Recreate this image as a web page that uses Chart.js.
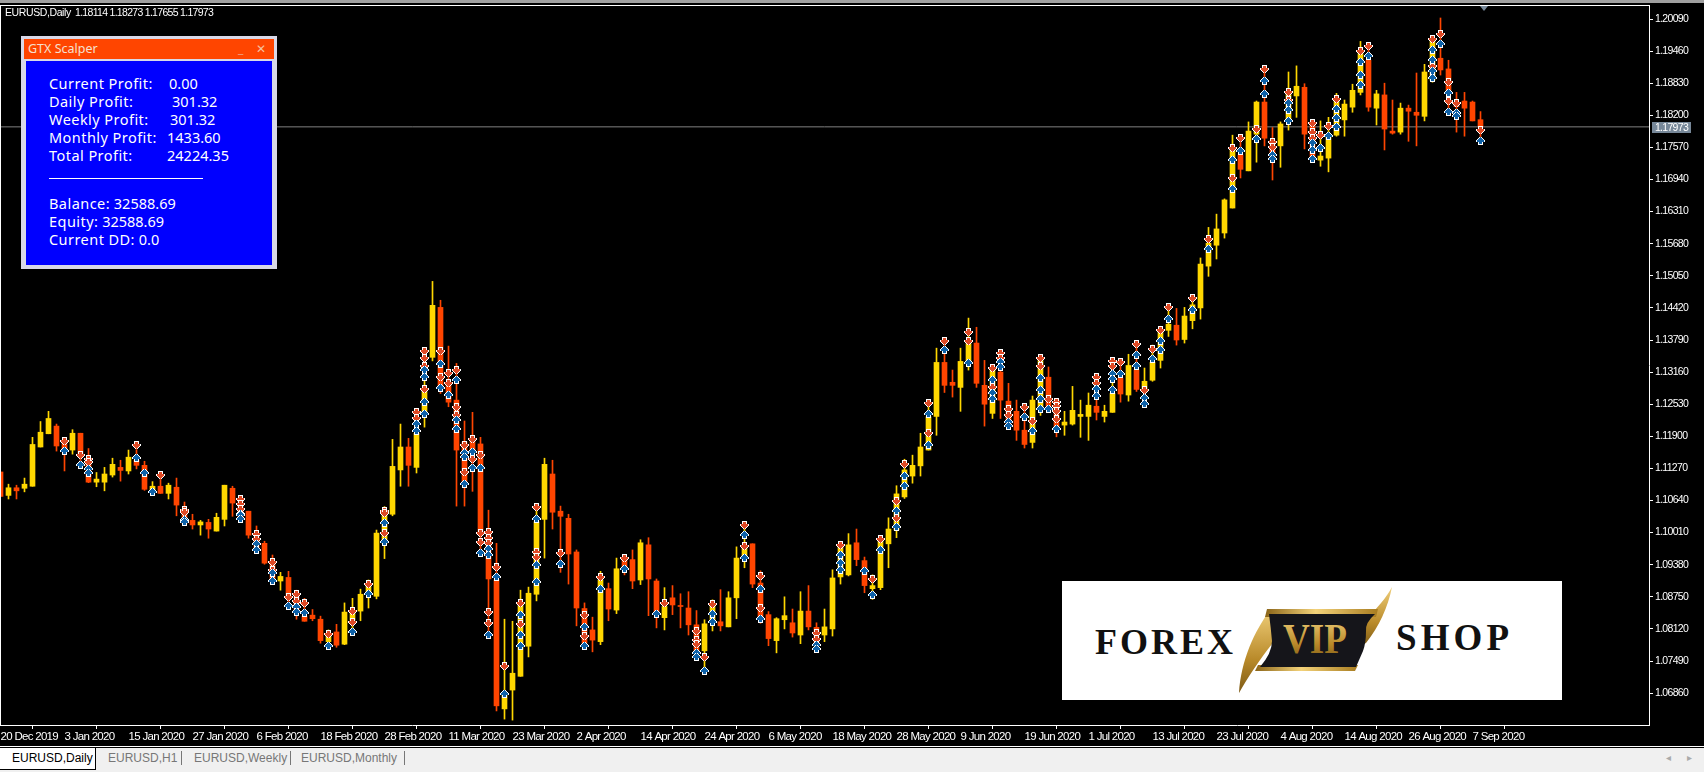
<!DOCTYPE html>
<html lang="en">
<head>
<meta charset="UTF-8" />
<title>EURUSD,Daily</title>
<script src="https://cdn.jsdelivr.net/npm/chart.js"></script>
<style>
  html, body { margin: 0; padding: 0; background: #000; overflow: hidden; }
  body { width: 1704px; height: 772px; position: relative; }
  canvas { position: absolute; left: 0; top: 0; }
  .abs { position: absolute; white-space: pre; }
  #topbar { left: 0; top: 0; width: 1704px; height: 3px; background: #a0a0a0; }
  #topline { left: 0; top: 5px; width: 1650px; height: 1px; background: #fff; }
  #leftline { left: 0; top: 5px; width: 1px; height: 720px; background: #fff; }
  #header { left: 5px; top: 6px; color: #fff; font: 10.5px/13px "Liberation Sans", sans-serif; letter-spacing: -0.4px; }
  #ohlc { left: 75px; top: 6px; color: #fff; font: 10.5px/13px "Liberation Sans", sans-serif; letter-spacing: -0.7px; }
  #pricetag { left: 1652px; top: 122px; width: 39px; height: 11px; background: #778899; color: #fff;
    font: 10.5px/11px "Liberation Sans", sans-serif; letter-spacing: -0.7px; text-align: center; }
  #marker { left: 1480px; top: 6px; width: 0; height: 0; border-left: 4px solid transparent; border-right: 4px solid transparent; border-top: 5px solid #778899; }
  #panel { left: 21px; top: 36px; width: 256px; height: 233px; background: #d8d8e8; }
  #ptitle { left: 3px; top: 3px; width: 250px; height: 20px; background: #ff4500; }
  #pname { left: 4px; top: 0; color: #f6e0d0; font: 12.5px/20px "Noto Sans", sans-serif; }
  #pmin { left: 214px; top: 0; color: #f0a080; font: 12px/20px "Noto Sans", sans-serif; }
  #pclose { left: 232px; top: 0; color: #f6c0a0; font: 12px/20px "Noto Sans", sans-serif; }
  #pbody { left: 5px; top: 25px; width: 246px; height: 204px; background: #0000ff; }
  .row { color: #fff; font: 14.5px/18px "Noto Sans", sans-serif; }
  .lab { letter-spacing: 0.45px; }
  #prule { left: 23px; top: 117px; width: 154px; height: 1px; background: #fff; }
  #logo { left: 1062px; top: 581px; width: 500px; height: 119px; background: #fff; }
  #logo svg { display: block; position: absolute; left: 0; top: 0; }
  #tabs { left: 0; top: 746px; width: 1704px; height: 26px; background: #f0f0f0; border-top: 1px solid #fff; }
  #tabsline { left: 0; top: 747px; width: 1704px; height: 1px; background: #000; }
  #tabactive { left: 0; top: 748px; width: 95px; height: 21px; background: #fff; border-right: 1px solid #000; border-bottom: 1px solid #000; }
  .tab { top: 751px; font: 12px/14px "Liberation Sans", sans-serif; color: #777; }
  .sep { top: 751px; width: 1px; height: 14px; background: #777; }
  .scroll { top: 751px; color: #aaa; font: 10px/14px "Liberation Sans", sans-serif; }
</style>
</head>
<body>
<canvas id="chart" width="1704" height="747"></canvas>
<div class="abs" id="topbar"></div>
<div class="abs" id="topline"></div>
<div class="abs" id="leftline"></div>
<div class="abs" id="marker"></div>
<div class="abs" id="header">EURUSD,Daily</div>
<div class="abs" id="ohlc">1.18114 1.18273 1.17655 1.17973</div>
<div class="abs" id="pricetag">1.17973</div>

<div class="abs" id="panel">
  <div class="abs" id="ptitle">
    <div class="abs" id="pname">GTX Scalper</div>
    <div class="abs" id="pmin">_</div>
    <div class="abs" id="pclose">✕</div>
  </div>
  <div class="abs" id="pbody">
    <div class="abs row lab" style="left:23px;top:13px">Current Profit:</div><div class="abs row" style="left:143px;top:13px">0.00</div>
    <div class="abs row lab" style="left:23px;top:31px">Daily Profit:</div><div class="abs row" style="left:146px;top:31px">301.32</div>
    <div class="abs row lab" style="left:23px;top:49px">Weekly Profit:</div><div class="abs row" style="left:144px;top:49px">301.32</div>
    <div class="abs row lab" style="left:23px;top:67px">Monthly Profit:</div><div class="abs row" style="left:141px;top:67px">1433.60</div>
    <div class="abs row lab" style="left:23px;top:85px">Total Profit:</div><div class="abs row" style="left:141px;top:85px">24224.35</div>
    <div class="abs" id="prule"></div>
    <div class="abs row" style="left:23px;top:133px"><span class="lab">Balance:</span> 32588.69</div>
    <div class="abs row" style="left:23px;top:151px"><span class="lab">Equity:</span> 32588.69</div>
    <div class="abs row" style="left:23px;top:169px"><span class="lab">Current DD:</span> 0.0</div>
  </div>
</div>

<div class="abs" id="logo">
  <svg width="500" height="119" viewBox="0 0 500 119">
    <defs>
      <linearGradient id="gold" x1="0" y1="0" x2="1" y2="0">
        <stop offset="0" stop-color="#8a6418" />
        <stop offset="0.45" stop-color="#f3d27a" />
        <stop offset="1" stop-color="#a87c20" />
      </linearGradient>
      <linearGradient id="goldv" x1="0" y1="0" x2="0" y2="1">
        <stop offset="0" stop-color="#f0cf7a" />
        <stop offset="0.6" stop-color="#b98a2a" />
        <stop offset="1" stop-color="#7d5a15" />
      </linearGradient>
    </defs>
    <text x="33" y="73" font-family="Liberation Serif" font-weight="bold" font-size="36" textLength="138" lengthAdjust="spacing" fill="#111">FOREX</text>
    <text x="334" y="69" font-family="Liberation Serif" font-weight="bold" font-size="37" textLength="113" lengthAdjust="spacing" fill="#111">SHOP</text>
    <path d="M177,112 C179,80 192,50 209,28 L212,44 C214,52 214,58 210,63 C198,78 186,96 177,112 Z" fill="url(#goldv)" />
    <path d="M330,6 C326,26 317,46 304,62 L296,66 C297,56 302,46 305,38 C314,28 325,16 330,6 Z" fill="url(#goldv)" />
    <path d="M205,28 L316,28 L314,36 L203,36 Z" fill="url(#gold)" />
    <path d="M196,84 L296,84 L293,90 L193,90 Z" fill="url(#gold)" />
    <path d="M207,33 L313,33 Q303,42 304,50 Q304,62 301,70 L294,86 L198,86 Q210,72 210,60 Q209,48 207,33 Z" fill="#15151a" />
    <text x="221" y="72" font-family="Liberation Serif" font-weight="bold" font-size="42" textLength="64" lengthAdjust="spacingAndGlyphs" fill="url(#goldv)">VIP</text>
  </svg>
</div>

<div class="abs" id="tabs"></div>
<div class="abs" id="tabsline"></div>
<div class="abs" id="tabactive"></div>
<div class="abs tab" style="left:12px;color:#000">EURUSD,Daily</div>
<div class="abs tab" style="left:108px">EURUSD,H1</div>
<div class="abs sep" style="left:181px"></div>
<div class="abs tab" style="left:194px">EURUSD,Weekly</div>
<div class="abs sep" style="left:290px"></div>
<div class="abs tab" style="left:301px">EURUSD,Monthly</div>
<div class="abs sep" style="left:404px"></div>
<div class="abs scroll" style="left:1666px">◂</div>
<div class="abs scroll" style="left:1687px">▸</div>

<script>
// tick labels
const dateLabels = ['20 Dec 2019','3 Jan 2020','15 Jan 2020','27 Jan 2020','6 Feb 2020','18 Feb 2020','28 Feb 2020','11 Mar 2020','23 Mar 2020','2 Apr 2020','14 Apr 2020','24 Apr 2020','6 May 2020','18 May 2020','28 May 2020','9 Jun 2020','19 Jun 2020','1 Jul 2020','13 Jul 2020','23 Jul 2020','4 Aug 2020','14 Aug 2020','26 Aug 2020','7 Sep 2020'];
const priceTicks = [1.20090,1.19460,1.18830,1.18200,1.17570,1.16940,1.16310,1.15680,1.15050,1.14420,1.13790,1.13160,1.12530,1.11900,1.11270,1.10640,1.10010,1.09380,1.08750,1.08120,1.07490,1.06860];
const currentPrice = 1.17973;

// daily candles
const opens = [1.1120,1.1074,1.1089,1.1088,1.1092,1.1169,1.1195,1.1210,1.1176,1.1163,
1.1196,1.1143,1.1100,1.1100,1.1114,1.1129,1.1122,1.1143,1.1133,1.1084,
1.1092,1.1078,1.1090,1.1045,1.1025,1.1016,1.1021,1.1004,1.1027,1.1088,
1.1068,1.1043,1.0993,1.0980,1.0940,1.0906,1.0913,1.0878,1.0836,1.0839,
1.0831,1.0787,1.0806,1.0782,1.0829,1.0847,1.0882,1.0876,1.0980,1.1037,
1.1124,1.1169,1.1129,1.1235,1.1345,1.1443,1.1290,1.1261,1.1179,1.1186,
1.1175,1.0999,1.0908,1.0655,1.0692,1.0719,1.0778,1.0880,1.1027,1.1116,
1.1043,1.1029,1.0963,1.0852,1.0810,1.0787,1.0891,1.0849,1.0948,1.0948,
1.0908,1.0977,1.0906,1.0834,1.0873,1.0857,1.0853,1.0820,1.0769,1.0827,
1.0826,1.0816,1.0873,1.0954,1.0979,1.0902,1.0840,1.0789,1.0830,1.0824,
1.0800,1.0847,1.0815,1.0800,1.0812,1.0914,1.0918,1.0981,1.0946,1.0891,
1.0893,1.0979,1.1006,1.1071,1.1112,1.1132,1.1163,1.1229,1.1335,1.1296,
1.1286,1.1333,1.1373,1.1290,1.1235,1.1316,1.1259,1.1239,1.1202,1.1178,
1.1248,1.1306,1.1261,1.1212,1.1214,1.1229,1.1229,1.1249,1.1229,1.1237,
1.1304,1.1271,1.1320,1.1280,1.1300,1.1339,1.1398,1.1408,1.1380,1.1417,
1.1442,1.1524,1.1565,1.1589,1.1638,1.1742,1.1711,1.1783,1.1846,1.1771,
1.1760,1.1812,1.1858,1.1875,1.1801,1.1732,1.1736,1.1781,1.1811,1.1836,
1.1865,1.1928,1.1834,1.1860,1.1789,1.1787,1.1834,1.1826,1.1818,1.1889,
1.1932,1.1911,1.1843,1.1848,1.1846,1.18114];
const closes = [1.1072,1.1089,1.1083,1.1096,1.1174,1.1198,1.1225,1.1171,1.1163,1.1196,
1.1153,1.1100,1.1106,1.1116,1.1135,1.1123,1.1149,1.1133,1.1086,1.1092,
1.1078,1.1094,1.1055,1.1019,1.1016,1.1022,1.1008,1.1031,1.1094,1.1059,
1.1029,1.0996,1.0970,1.0941,1.0908,1.0915,1.0875,1.0845,1.0827,1.0832,
1.0789,1.0800,1.0780,1.0845,1.0846,1.0880,1.0898,1.1000,1.1042,1.1131,
1.1169,1.1133,1.1196,1.1281,1.1447,1.1287,1.1257,1.1163,1.1101,1.1163,
1.0999,1.0910,1.0661,1.0682,1.0725,1.0862,1.0882,1.1022,1.1135,1.1041,
1.1033,1.0959,1.0853,1.0784,1.0790,1.0908,1.0851,1.0930,1.0931,1.0906,
1.0981,1.0910,1.0842,1.0856,1.0859,1.0856,1.0820,1.0764,1.0822,1.0859,
1.0818,1.0873,1.0951,1.0970,1.0900,1.0836,1.0793,1.0832,1.0838,1.0804,
1.0847,1.0816,1.0784,1.0816,1.0912,1.0974,1.0977,1.0948,1.0897,1.0897,
1.0987,1.1008,1.1077,1.1124,1.1133,1.1169,1.1228,1.1335,1.1290,1.1290,
1.1337,1.1372,1.1294,1.1253,1.1320,1.1261,1.1212,1.1202,1.1174,1.1261,
1.1339,1.1249,1.1208,1.1218,1.1241,1.1233,1.1251,1.1237,1.1239,1.1274,
1.1273,1.1329,1.1282,1.1298,1.1335,1.1395,1.1410,1.1379,1.1426,1.1448,
1.1528,1.1569,1.1597,1.1654,1.1752,1.1714,1.1789,1.1846,1.1775,1.1739,
1.1803,1.1863,1.1877,1.1783,1.1739,1.1740,1.1779,1.1850,1.1842,1.1869,
1.1941,1.1836,1.1862,1.1793,1.1785,1.1834,1.1828,1.1820,1.1905,1.1968,
1.1909,1.1869,1.1837,1.1834,1.1809,1.17973];
const highs = [1.1120,1.1096,1.1094,1.1108,1.1188,1.1219,1.1239,1.1214,1.1186,1.1203,
1.1196,1.1166,1.1119,1.1129,1.1147,1.1143,1.1163,1.1164,1.1141,1.1101,
1.1114,1.1098,1.1108,1.1061,1.1037,1.1025,1.1027,1.1039,1.1094,1.1092,
1.1071,1.1043,1.1014,1.0984,1.0957,1.0923,1.0925,1.0888,1.0872,1.0850,
1.0837,1.0810,1.0821,1.0863,1.0872,1.0890,1.0908,1.1006,1.1052,1.1184,
1.1214,1.1186,1.1245,1.1362,1.1494,1.1457,1.1367,1.1333,1.1220,1.1237,
1.1188,1.1045,1.0980,1.0831,1.0827,1.0888,1.0894,1.1058,1.1147,1.1143,
1.1053,1.1037,1.0967,1.0863,1.0835,1.0925,1.0902,1.0951,1.0957,1.0967,
1.0987,1.0991,1.0910,1.0893,1.0897,1.0881,1.0885,1.0848,1.0830,1.0869,
1.0889,1.0885,1.0973,1.1023,1.0979,1.0926,1.0846,1.0834,1.0875,1.0851,
1.0885,1.0897,1.0824,1.0851,1.0928,1.0984,1.0999,1.1008,1.0953,1.0918,
1.0995,1.1030,1.1093,1.1145,1.1153,1.1196,1.1261,1.1363,1.1384,1.1320,
1.1363,1.1422,1.1404,1.1339,1.1331,1.1359,1.1294,1.1261,1.1254,1.1269,
1.1349,1.1326,1.1264,1.1239,1.1288,1.1261,1.1275,1.1312,1.1251,1.1345,
1.1343,1.1351,1.1377,1.1324,1.1369,1.1406,1.1450,1.1441,1.1443,1.1467,
1.1540,1.1600,1.1626,1.1656,1.1781,1.1781,1.1807,1.1848,1.1917,1.1796,
1.1807,1.1905,1.1917,1.1882,1.1809,1.1809,1.1816,1.1863,1.1850,1.1881,
1.1965,1.1963,1.1869,1.1883,1.1850,1.1844,1.1840,1.1903,1.1920,1.1975,
1.2011,1.1928,1.1865,1.1865,1.1848,1.18273];
const lows = [1.1072,1.1067,1.1067,1.1081,1.1092,1.1169,1.1195,1.1161,1.1122,1.1155,
1.1133,1.1099,1.1091,1.1083,1.1110,1.1102,1.1116,1.1126,1.1084,1.1078,
1.1078,1.1067,1.1034,1.1016,1.1008,1.0996,1.0990,1.1004,1.1014,1.1033,
1.1022,1.0990,1.0960,1.0939,1.0900,1.0888,1.0852,1.0831,1.0827,1.0828,
1.0784,1.0774,1.0776,1.0781,1.0803,1.0828,1.0853,1.0871,1.0950,1.1034,
1.1092,1.1092,1.1118,1.1208,1.1338,1.1274,1.1248,1.1053,1.1053,1.1082,
1.0955,1.0793,1.0651,1.0635,1.0633,1.0719,1.0757,1.0867,1.0951,1.1008,
1.0923,1.0900,1.0818,1.0774,1.0767,1.0781,1.0828,1.0842,1.0918,1.0891,
1.0899,1.0838,1.0814,1.0810,1.0840,1.0814,1.0800,1.0751,1.0730,1.0808,
1.0808,1.0816,1.0832,1.0932,1.0893,1.0823,1.0779,1.0765,1.0812,1.0796,
1.0783,1.0810,1.0767,1.0787,1.0798,1.0900,1.0916,1.0936,1.0883,1.0870,
1.0889,1.0932,1.0991,1.1068,1.1098,1.1112,1.1163,1.1192,1.1276,1.1267,
1.1239,1.1320,1.1286,1.1210,1.1225,1.1225,1.1205,1.1182,1.1167,1.1167,
1.1231,1.1239,1.1189,1.1192,1.1212,1.1188,1.1182,1.1222,1.1218,1.1237,
1.1257,1.1259,1.1278,1.1251,1.1298,1.1324,1.1386,1.1369,1.1373,1.1401,
1.1420,1.1504,1.1538,1.1579,1.1638,1.1697,1.1711,1.1728,1.1760,1.1693,
1.1718,1.1791,1.1816,1.1754,1.1732,1.1720,1.1709,1.1779,1.1779,1.1826,
1.1860,1.1828,1.1801,1.1752,1.1783,1.1783,1.1769,1.1760,1.1809,1.1885,
1.1899,1.1820,1.1787,1.1779,1.1809,1.17655];

// [bar, price] of the arrows the expert put on the chart
const sellSignals = [[8,1.1180],[10,1.1153],[11,1.1146],[11,1.1140],[17,1.1172],[20,1.1114],[23,1.1046],[23,1.1042],[30,1.1066],[30,1.1057],[30,1.1048],[32,1.0999],[32,1.0989],[34,1.0944],[34,1.0927],[36,1.0875],[37,1.0880],[37,1.0867],
[38,1.0863],[41,1.0802],[44,1.0848],[44,1.0826],[46,1.0901],[48,1.1044],[48,1.1039],[48,1.1001],[52,1.1238],[52,1.1225],[53,1.1358],[53,1.1343],[53,1.1328],[53,1.1282],[55,1.1357],[55,1.1307],[56,1.1315],[56,1.1295],[57,1.1320],[57,1.1248],[57,1.1231],[58,1.1173],[58,1.1120],[59,1.1184],[59,1.1146],[60,1.1153],[60,1.1000],[60,1.0983],[61,1.1003],[61,1.0990],[61,1.0980],[61,1.0846],[61,1.0823],[62,1.0934],[63,1.0739],[65,1.0863],[65,1.0821],[67,1.1051],[67,1.0963],[67,1.0954],[70,1.0961],[73,1.0839],[73,1.0798],[75,1.0914],
[78,1.0951],[83,1.0863],[87,1.0808],[87,1.0791],[87,1.0783],[88,1.0756],[89,1.0861],[93,1.1016],[93,1.0974],[95,1.0915],[95,1.0853],[102,1.0804],[102,1.0793],[105,1.0977],[109,1.0910],[110,1.0988],[112,1.1064],[112,1.1029],[113,1.1135],[116,1.1256],[116,1.1196],
[118,1.1377],[121,1.1395],[121,1.1377],[124,1.1324],[124,1.1287],[125,1.1354],[125,1.1344],[126,1.1244],[126,1.1231],[128,1.1248],[129,1.1220],[130,1.1343],[130,1.1328],[131,1.1263],[132,1.1258],[132,1.1249],[132,1.1240],[132,1.1224],[137,1.1307],[137,1.1294],[139,1.1338],[139,1.1327],[140,1.1336],[142,1.1371],[143,1.1280],[144,1.1362],[145,1.1399],[146,1.1443],
[149,1.1462],[151,1.1578],[154,1.1755],[154,1.1696],[155,1.1775],[157,1.1793],[158,1.1911],[159,1.1768],[159,1.1758],[161,1.1865],[161,1.1851],[164,1.1804],[164,1.1788],[164,1.1775],[165,1.1782],[166,1.1799],[167,1.1852],[170,1.1947],[171,1.1956],[179,1.1970],[179,1.1917],[180,1.1979],[181,1.1886],[181,1.1849],[182,1.1845],[185,1.1791]];
const buySignals = [[8,1.1161],[10,1.1133],[11,1.1125],[11,1.1117],[17,1.1147],[18,1.1118],[19,1.1080],[23,1.1025],[23,1.1022],[30,1.1038],[30,1.1035],[30,1.1027],[32,1.0978],[32,1.0966],[34,1.0922],[34,1.0906],[36,1.0857],[37,1.0855],[37,1.0845],
[38,1.0844],[41,1.0778],[44,1.0805],[46,1.0880],[48,1.1019],[48,1.0982],[52,1.1215],[52,1.1200],[53,1.1320],[53,1.1307],[53,1.1258],[53,1.1233],[55,1.1332],[55,1.1284],[56,1.1271],[57,1.1300],[57,1.1222],[57,1.1205],[58,1.1158],[58,1.1150],[58,1.1097],[59,1.1160],[59,1.1127],[60,1.1127],[60,1.0961],[61,1.0968],[61,1.0958],[61,1.0800],[62,1.0914],[63,1.0684],[65,1.0840],[65,1.0800],[65,1.0778],[67,1.1027],[67,1.0937],[67,1.0905],[70,1.0939],[73,1.0815],[73,1.0778],[75,1.0891],
[78,1.0930],[82,1.0842],[87,1.0764],[87,1.0757],[88,1.0730],[89,1.0841],[89,1.0825],[93,1.0996],[93,1.0951],[95,1.0891],[95,1.0831],[102,1.0781],[102,1.0772],[105,1.0957],[105,1.0941],[105,1.0927],[108,1.0926],[109,1.0879],[110,1.0967],[112,1.1044],[112,1.1012],[113,1.1112],[113,1.1092],[116,1.1234],[116,1.1173],
[118,1.1359],[121,1.1333],[124,1.1301],[124,1.1275],[124,1.1264],[125,1.1336],[125,1.1326],[126,1.1218],[126,1.1210],[128,1.1227],[129,1.1200],[130,1.1305],[130,1.1280],[130,1.1263],[130,1.1243],[131,1.1243],[132,1.1204],[137,1.1282],[137,1.1269],[139,1.1313],[139,1.1303],[139,1.1280],[140,1.1312],[142,1.1349],[142,1.1328],[143,1.1266],[143,1.1254],[144,1.1341],[145,1.1377],[145,1.1359],[146,1.1421],
[149,1.1438],[151,1.1557],[154,1.1732],[154,1.1676],[155,1.1750],[157,1.1773],[158,1.1887],[158,1.1861],[159,1.1742],[159,1.1735],[161,1.1845],[161,1.1830],[161,1.1809],[164,1.1765],[164,1.1752],[164,1.1735],[165,1.1756],[166,1.1779],[167,1.1833],[167,1.1815],[167,1.1797],[170,1.1924],[170,1.1899],[170,1.1879],[171,1.1936],[179,1.1948],[179,1.1928],[179,1.1907],[179,1.1894],[180,1.1959],[181,1.1864],[181,1.1826],[182,1.1824],[182,1.1818],[185,1.1769]];

const upColor = '#FFD700';
const downColor = '#FF4500';
const candleColor = i => closes[i] >= opens[i] ? upColor : downColor;

// the two arrows are small pixel sprites, used as point styles
// each row: first/last white pixel, first/last coloured pixel
const arrowRows = [[3,5,4,4],[2,6,3,5],[1,7,2,6],[0,8,1,7],[0,8,1,7],[2,6,3,5],[2,6,3,5],[2,6,-1,-1]];
function makeArrow(fill, down) {
  const c = document.createElement('canvas');
  c.width = 9; c.height = 8;
  const g = c.getContext('2d');
  arrowRows.forEach((r, k) => {
    const y = down ? 7 - k : k;
    g.fillStyle = '#fff';
    g.fillRect(r[0], y, r[1] - r[0] + 1, 1);
    if (r[2] >= 0) {
      g.fillStyle = fill;
      g.fillRect(r[2], y, r[3] - r[2] + 1, 1);
    }
  });
  return c;
}
const sellArrow = makeArrow('#de4a26', true);
const buyArrow = makeArrow('#0f62a8', false);

const wicks = highs.map((h, i) => ({ x: i, y: [lows[i], h] }));
const bodies = opens.map((o, i) => ({ x: i, y: [Math.min(o, closes[i]), Math.max(o, closes[i])] }));
const barColors = opens.map((o, i) => candleColor(i));

const axisFont = { family: '"Liberation Sans", sans-serif', size: 10.5 };
const dateFont = { family: '"Liberation Sans", sans-serif', size: 11.5 };

// tahoma-like narrow digits and crisp sprites
const canvasTweaks = {
  id: 'canvasTweaks',
  beforeDraw(chart) {
    chart.ctx.letterSpacing = '-0.7px';
    chart.ctx.imageSmoothingEnabled = false;
  }
};

new Chart(document.getElementById('chart').getContext('2d'), {
  plugins: [canvasTweaks],
  data: {
    datasets: [
      { type: 'line', data: [{ x: -0.0625, y: currentPrice }, { x: 206.0625, y: currentPrice }], borderColor: '#808080', borderWidth: 1, pointRadius: 0, order: 5 },
      { type: 'bar', data: wicks, backgroundColor: barColors, barThickness: 1, grouped: false, order: 4 },
      { type: 'bar', data: bodies, backgroundColor: barColors, barThickness: 5, grouped: false, minBarLength: 1, order: 3 },
      { type: 'line', data: sellSignals.map(s => ({ x: s[0], y: s[1] })), showLine: false, pointStyle: sellArrow, order: 2 },
      { type: 'line', data: buySignals.map(s => ({ x: s[0], y: s[1] })), showLine: false, pointStyle: buyArrow, order: 1 }
    ]
  },
  options: {
    responsive: false,
    animation: false,
    devicePixelRatio: 1,
    events: [],
    layout: { autoPadding: false, padding: { top: 5, left: 0, right: 0, bottom: 0 } },
    plugins: { legend: { display: false }, tooltip: { enabled: false } },
    scales: {
      x: {
        type: 'linear',
        offset: false,
        min: -0.0625,
        max: 206.0625,
        afterBuildTicks: s => { s.ticks = dateLabels.map((d, k) => ({ value: k * 8 })); },
        afterFit: s => { s.height = 22; s.paddingLeft = 0; s.paddingRight = 0; },
        grid: { drawOnChartArea: false, color: '#fff', tickLength: 4 },
        border: { color: '#fff' },
        ticks: {
          color: '#fff',
          font: dateFont,
          autoSkip: false,
          maxRotation: 0,
          align: 'start',
          padding: 1,
          callback: v => dateLabels[v / 8]
        }
      },
      y: {
        position: 'right',
        min: 1.06234,
        max: 1.203648,
        afterBuildTicks: s => { s.ticks = priceTicks.map(v => ({ value: v })); },
        afterFit: s => { s.width = 55; s.paddingTop = 0; s.paddingBottom = 0; },
        grid: { drawOnChartArea: false, color: '#fff', tickLength: 4 },
        border: { color: '#fff' },
        ticks: {
          color: '#fff',
          font: axisFont,
          autoSkip: false,
          padding: 2,
          callback: v => v.toFixed(5)
        }
      }
    }
  }
});
</script>
</body>
</html>
